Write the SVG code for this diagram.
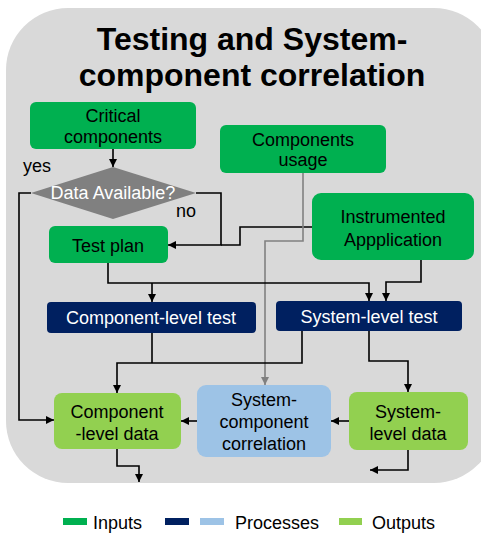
<svg xmlns="http://www.w3.org/2000/svg" width="481" height="533" viewBox="0 0 481 533">
<defs>
<style>
text{font-family:"Liberation Sans",Arial,sans-serif;font-size:18px;text-anchor:middle;fill:#000}
.w{fill:#fff}
.title{font-size:32px;font-weight:bold}
.in{fill:#00b050}
.out{fill:#92d050}
.proc{fill:#002060}
.corr{fill:#9dc3e6}
.ln{fill:none;stroke:#000;stroke-width:1.6}
.gl{fill:none;stroke:#808080;stroke-width:1.6}
</style>
<marker id="ah" markerUnits="userSpaceOnUse" markerWidth="8" markerHeight="8" refX="8" refY="4" orient="auto"><path d="M0,0 L8,4 L0,8 z" fill="#000"/></marker>
<marker id="ag" markerUnits="userSpaceOnUse" markerWidth="8" markerHeight="8" refX="8" refY="4" orient="auto"><path d="M0,0 L8,4 L0,8 z" fill="#808080"/></marker>
</defs>
<rect x="6" y="8" width="490" height="475" rx="62" fill="#d9d9d9"/>
<text class="title" x="252" y="50">Testing and System-</text>
<text class="title" x="252" y="86">component correlation</text>

<g id="connectors">
<path class="ln" d="M113,149 V167" marker-end="url(#ah)"/>
<path class="ln" d="M31,193 H19 V420 H54" marker-end="url(#ah)"/>
<path class="ln" d="M196,193 H221 V245 H168" marker-end="url(#ah)"/>
<path class="ln" d="M312,227 H240 V245 H221"/>
<path class="gl" d="M303,173 V241 H265 V385" marker-end="url(#ag)"/>
<path class="ln" d="M108,263 V283 H369 V301" marker-end="url(#ah)"/>
<path class="ln" d="M152,283 V302" marker-end="url(#ah)"/>
<path class="ln" d="M421,260 V282 H386 V301" marker-end="url(#ah)"/>
<path class="ln" d="M152,333 V363"/>
<path class="ln" d="M302,331 V363 H117 V393" marker-end="url(#ah)"/>
<path class="ln" d="M369,331 V361 H408 V392" marker-end="url(#ah)"/>
<path class="ln" d="M349,421 H331" marker-end="url(#ah)"/>
<path class="ln" d="M197,421 H181" marker-end="url(#ah)"/>
<path class="ln" d="M117,449 V466 H139 V482" marker-end="url(#ah)"/>
<path class="ln" d="M408,450 V470 H370" marker-end="url(#ah)"/>
<text x="37" y="172">yes</text>
<text x="186" y="217">no</text>
</g>

<g id="critical">
<rect class="in" x="30" y="102" width="166" height="47" rx="6"/>
<text x="113" y="122">Critical</text>
<text x="113" y="143">components</text>
</g>
<g id="usage">
<rect class="in" x="220" y="125" width="166" height="48" rx="6"/>
<text x="303" y="146">Components</text>
<text x="303" y="166">usage</text>
</g>
<g id="decision">
<polygon points="31,193 113,167 196,193 113,219" fill="#808080"/>
<text class="w" x="113" y="199">Data Available?</text>
</g>
<g id="testplan">
<rect class="in" x="49" y="226" width="119" height="37" rx="6"/>
<text x="108" y="252">Test plan</text>
</g>
<g id="instrumented">
<rect class="in" x="312" y="193" width="162" height="67" rx="9"/>
<text x="393" y="223">Instrumented</text>
<text x="393" y="246">Appplication</text>
</g>
<g id="comptest">
<rect class="proc" x="47" y="302" width="209" height="31" rx="4"/>
<text class="w" x="151" y="324">Component-level  test</text>
</g>
<g id="systest">
<rect class="proc" x="276" y="301" width="186" height="30" rx="4"/>
<text class="w" x="369" y="323">System-level  test</text>
</g>
<g id="compdata">
<rect class="out" x="54" y="393" width="127" height="56" rx="8"/>
<text x="117" y="418">Component</text>
<text x="117" y="440">-level data</text>
</g>
<g id="correlation">
<rect class="corr" x="197" y="385" width="134" height="72" rx="9"/>
<text x="264" y="406">System-</text>
<text x="264" y="428">component</text>
<text x="264" y="450">correlation</text>
</g>
<g id="sysdata">
<rect class="out" x="349" y="392" width="119" height="58" rx="8"/>
<text x="408" y="418">System-</text>
<text x="408" y="440">level data</text>
</g>

<g id="legend">
<rect class="in" x="63" y="518" width="24" height="7"/>
<text x="93" y="529" style="text-anchor:start">Inputs</text>
<rect class="proc" x="165" y="518" width="24" height="7"/>
<rect class="corr" x="200" y="518" width="24" height="7"/>
<text x="235" y="529" style="text-anchor:start">Processes</text>
<rect class="out" x="339" y="518" width="23" height="7"/>
<text x="372" y="529" style="text-anchor:start">Outputs</text>
</g>
</svg>
